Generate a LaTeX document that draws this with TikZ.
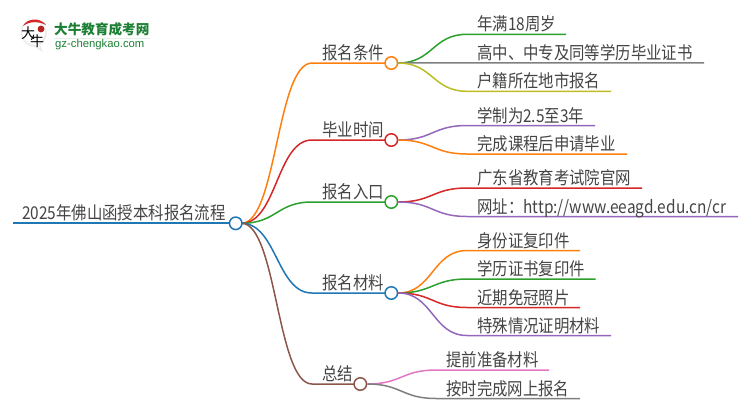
\documentclass[tikz,border=0pt]{standalone}
\usepackage{fontspec}
\usetikzlibrary{calc}
\setmainfont[FakeStretch=0.87]{Noto Sans CJK SC}
\newfontfamily\logocjk{Noto Sans CJK SC}
\newfontfamily\logolat{Liberation Sans}
\definecolor{cO}{HTML}{FF7F0E}
\definecolor{cG}{HTML}{2CA02C}
\definecolor{cR}{HTML}{D62728}
\definecolor{cP}{HTML}{9467BD}
\definecolor{cB}{HTML}{1F77B4}
\definecolor{cN}{HTML}{8C564B}
\definecolor{cK}{HTML}{E377C2}
\definecolor{cA}{HTML}{7F7F7F}
\definecolor{cY}{HTML}{BCBD22}
\definecolor{txt}{HTML}{444444}
\definecolor{logog}{HTML}{1C7F34}
\tikzset{
  x=1pt,y=-1pt,
  lbl/.style={anchor=base west,inner sep=0pt,text=txt,font=\fontsize{17.7}{18}\selectfont},
  hub/.style={circle,draw=#1,fill=white,line width=1.5pt,minimum size=12.5pt,inner sep=0pt},
  rulei/.style={draw=#1,line width=1.6pt},
  lnk/.style={draw=#1,line width=1.5pt},
  lgmark/.style={inner sep=0pt,text=black,font=\logocjk\fontsize{14}{14}\selectfont},
}
\begin{document}
\begin{tikzpicture}
\useasboundingbox (0,0) rectangle (750,410);
% logo
\fill[black!8] (24,23) .. controls (17,32) and (22,46) .. (35,47) -- (43,52) -- (40,45) .. controls (50,38) and (48,25) .. (40,22) -- cycle;
\fill[white] (25,23) .. controls (19,32) and (23,44) .. (35,45) -- (40,48) -- (38.5,43.5) .. controls (48,37) and (46,26) .. (40,23) -- cycle;
\fill[cR] (23,26) .. controls (27,18) and (40,17) .. (46,25) .. controls (38,21) and (30,21) .. (23,26) -- cycle;
\fill[cR!85!black] (41,29) circle (3.4);
\node[lgmark] (lgA) at (28,33) {大};
\node[lgmark] (lgB) at (37,41) {牛};
\node[anchor=west,inner sep=0pt,text=logog,font=\logocjk\fontsize{13.6}{14}\selectfont\bfseries] (lgT) at (54,29.5) {大牛教育成考网};
\node[anchor=west,inner sep=0pt,text=logog,font=\logolat\fontsize{11.3}{12}\selectfont] (lgU) at (55,45) {gz-chengkao.com};
\fill[logog!12] (54,38) rectangle (150,39);
% hubs' and connectors' free ends
\coordinate (rS) at (13,223.3);
\coordinate (rE) at (241.5,223.3);
\foreach \n/\xa/\xb/\y in {
 a/312/385/63, b/312/385/140, c/312/385/202, d/312/385/293, e/312/354/384,
 la/467/566/34.3, lb/467/704/62.8, lc/467/611/91.3,
 ld/467/595/125.5, le/467/627/154,
 lf/467/642/188, lg/467/738/216.5,
 lh/467/580/250.5, li/467/595.5/279, lj/467/580/307.5, lk/467/611/335.5,
 ll/436/549/370, lm/436/580/398.5}{
 \coordinate (\n0) at (\xa,\y);
 \coordinate (\n1) at (\xb,\y);
}
\draw[rulei=cB,line width=2pt] (rS) -- (rE);
\foreach \l/\c in {a/cO,b/cR,c/cG,d/cB,e/cN}{
  \coordinate (hm) at ($(rE)!0.5!(\l0 |- rE)$);
  \draw[lnk=\c] (rE) .. controls (hm) and (hm |- \l0) .. (\l0) -- (\l1);
}
\node[hub=cB] (root) at (235.7,223.3) {};
\node[hub=cO] (ha) at (391.3,63) {};
\node[hub=cR] (hb) at (391.3,140) {};
\node[hub=cG] (hc) at (391.3,202) {};
\node[hub=cB] (hd) at (391.3,293) {};
\node[hub=cN] (he) at (360.3,384) {};
\foreach \h/\l/\c in {ha/la/cG,ha/lb/cA,ha/lc/cY,hb/ld/cP,hb/le/cO,hc/lf/cR,hc/lg/cP,hd/lh/cO,hd/li/cG,hd/lj/cR,hd/lk/cP,he/ll/cK,he/lm/cA}{
  \coordinate (hs) at (\h.east);
  \coordinate (hm) at ($(hs)!0.5!(\l0 |- hs)$);
  \draw[lnk=\c] (hs) .. controls (hm) and (hm |- \l0) .. (\l0) -- (\l1);
}
% labels
\node[lbl] (tR) at (22,219.8) {2025年佛山函授本科报名流程};
\node[lbl] (ta) at (322,59.5) {报名条件};
\node[lbl] (tb) at (322,136.5) {毕业时间};
\node[lbl] (tc) at (322,198.5) {报名入口};
\node[lbl] (td) at (322,289.5) {报名材料};
\node[lbl] (te) at (322,380.5) {总结};
\foreach \n/\y/\t in {
 a/30.8/年满18周岁, b/59.3/高中、中专及同等学历毕业证书, c/87.8/户籍所在地市报名,
 d/122/学制为2.5至3年, e/150.5/完成课程后申请毕业,
 f/184.5/广东省教育考试院官网, g/213/{网址：http://www.eeagd.edu.cn/cr},
 h/247/身份证复印件, i/275.5/学历证书复印件, j/304/近期免冠照片, k/332/特殊情况证明材料}{
 \node[lbl] (t\n) at (477,\y) {\t};
}
\node[lbl] (tl) at (446,366.5) {提前准备材料};
\node[lbl] (tm) at (446,395) {按时完成网上报名};
\end{tikzpicture}
\end{document}
